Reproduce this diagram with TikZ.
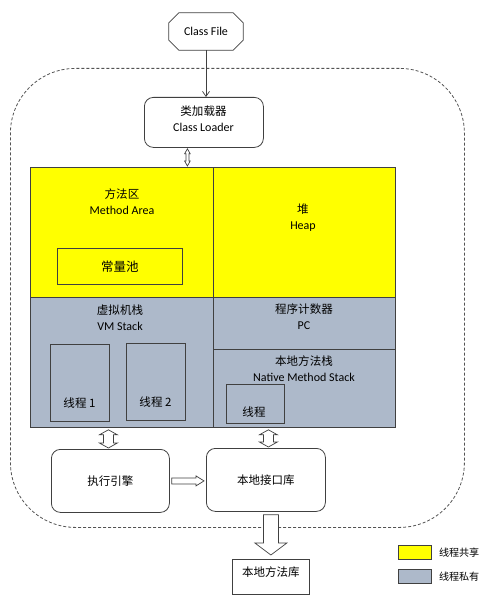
\documentclass[tikz,border=0pt]{standalone}
\usepackage{fontspec}
\setmainfont{Carlito}
\newfontfamily\cjk{Noto Sans CJK SC}[Scale=0.96]
\usetikzlibrary{calc,arrows.meta}
\definecolor{shared}{RGB}{255,255,0}
\definecolor{private}{RGB}{173,185,202}
\definecolor{edge}{RGB}{64,64,64}
\newcommand\vdarr[5]{% from, to, head half, shaft half, head length
  \draw[hollow] let \p1=(#1), \p2=(#2) in
    (\x1,\y1) -- (\x1+#3,\y1-#5) -- (\x1+#4,\y1-#5) -- (\x1+#4,\y2+#5)
    -- (\x1+#3,\y2+#5) -- (\x1,\y2) -- (\x1-#3,\y2+#5) -- (\x1-#4,\y2+#5)
    -- (\x1-#4,\y1-#5) -- (\x1-#3,\y1-#5) -- cycle;}
\begin{document}
\begin{tikzpicture}[x=1pt,y=-1pt,
  box/.style={draw=edge, line width=0.8pt, inner sep=0pt, anchor=north west},
  rbox/.style={box, rounded corners=9pt, fill=white},
  txt/.style={align=center, inner sep=0pt, font=\fontsize{12}{16}\selectfont},
  small/.style={inner sep=0pt, font=\fontsize{10.5}{13}\selectfont},
  hollow/.style={draw=edge, fill=white, line width=0.7pt, line join=miter},
  conn/.style={draw=edge, line width=0.7pt, -{Straight Barb[length=5pt,width=7pt]}}]
\useasboundingbox (0,0) rectangle (500,607);

% JVM boundary
\node[box, dashed, dash pattern=on 3pt off 2pt, draw=edge!90, rounded corners=65pt,
  minimum width=454pt, minimum height=459pt] (jvm) at (10,68) {};

% Class file (octagon)
\node[inner sep=0pt, minimum width=74pt, minimum height=37pt] (cf) at (206,31.5) {};
\draw[draw=edge, line width=0.8pt]
  ($(cf.north west)+(10,0)$) -- ($(cf.north east)+(-10,0)$) -- ($(cf.north east)+(0,10)$)
  -- ($(cf.south east)+(0,-10)$) -- ($(cf.south east)+(-10,0)$) -- ($(cf.south west)+(10,0)$)
  -- ($(cf.south west)+(0,-10)$) -- ($(cf.north west)+(0,10)$) -- cycle;
\node[txt] (cft) at (cf.center) {Class File};

% Class loader
\node[rbox, minimum width=119pt, minimum height=50pt] (cl) at (144,97) {};
\node[txt] (clt) at (203.5,119) {{\cjk 类加载器}\\Class Loader};
\draw[conn] (cf.south) -- (cf.south |- cl.north);

% runtime data areas
\node[box, fill=shared, minimum width=183pt, minimum height=130pt] (ma) at (30,167) {};
\node[box, fill=shared, minimum width=182pt, minimum height=130pt] (heap) at (213,167) {};
\node[box, fill=private, minimum width=183pt, minimum height=130pt] (vms) at (30,297) {};
\node[box, fill=private, minimum width=182pt, minimum height=52pt] (pc) at (213,297) {};
\node[box, fill=private, minimum width=182pt, minimum height=78pt] (nms) at (213,349) {};

\node[txt] (mat) at (122,202) {{\cjk 方法区}\\Method Area};
\node[box, minimum width=125pt, minimum height=36pt] (pool) at (57,248) {};
\node[txt, font=\fontsize{13}{16}\selectfont] (poolt) at (pool.center) {\cjk 常量池};
\node[txt] (heapt) at (303,218) {{\cjk 堆}\\Heap};

\node[txt] (vmst) at (120,317.5) {{\cjk 虚拟机栈}\\VM Stack};
\node[box, minimum width=59pt, minimum height=77pt] (t1) at (50,344) {};
\node[txt] (t1t) at (79.5,403) {\cjk 线程 1};
\node[box, minimum width=59pt, minimum height=77pt] (t2) at (126,343) {};
\node[txt] (t2t) at (155.5,402) {\cjk 线程 2};

\node[txt] (pct) at (304,317) {{\cjk 程序计数器}\\PC};
\node[txt] (nmst) at (304,369) {{\cjk 本地方法栈}\\Native Method Stack};
\node[box, minimum width=58pt, minimum height=39pt] (t3) at (226,384) {};
\node[txt] (t3t) at (254,412) {\cjk 线程};

% execution engine and native interface
\node[rbox, minimum width=118pt, minimum height=63pt] (ee) at (51,449) {};
\node[txt] (eet) at (ee.center) {\cjk 执行引擎};
\node[rbox, minimum width=119pt, minimum height=63pt] (ni) at (206,448) {};
\node[txt] (nit) at (ni.center) {\cjk 本地接口库};
\node[box, minimum width=77pt, minimum height=35pt] (nl) at (232,559) {};
\node[txt] (nlt) at ($(nl.north)+(0,13)$) {\cjk 本地方法库};

% hollow arrows
\vdarr{$(cl.south)+(-16.5,1)$}{$(ma.north)+(0,-1)$}{2.8pt}{1.5pt}{5pt}
\vdarr{$(vms.south -| ee.north)+(-2,2)$}{$(ee.north)+(-2,-1)$}{9pt}{5pt}{5pt}
\vdarr{$(nms.south -| ni.north)+(2.5,2)$}{$(ni.north)+(2.5,-1)$}{9pt}{5pt}{5pt}
\draw[hollow] let \p1=($(ee.east)+(2,0)$), \p2=($(ni.west)+(-2,0)$) in
  (\x1,\y1+3pt) -- (\x2-8pt,\y1+3pt) -- (\x2-8pt,\y1+5pt) -- (\x2,\y1)
  -- (\x2-8pt,\y1-5pt) -- (\x2-8pt,\y1-3pt) -- (\x1,\y1-3pt) -- cycle;
\draw[hollow] let \p1=($(ni.south -| nl.north)+(0,3)$), \p2=($(nl.north)+(0,-4)$) in
  (\x1-7.5pt,\y1) -- (\x1+7.5pt,\y1) -- (\x1+7.5pt,\y2+12pt) -- (\x1+16pt,\y2+12pt)
  -- (\x1,\y2) -- (\x1-16pt,\y2+12pt) -- (\x1-7.5pt,\y2+12pt) -- cycle;

% legend
\node[box, fill=shared, minimum width=33pt, minimum height=14pt] (lgs) at (398,545) {};
\node[small, anchor=west] (lgst) at ($(lgs.east)+(7,0)$) {\cjk 线程共享};
\node[box, fill=private, minimum width=33pt, minimum height=14pt] (lgp) at (398,569) {};
\node[small, anchor=west] (lgpt) at ($(lgp.east)+(7,0)$) {\cjk 线程私有};
\end{tikzpicture}
\end{document}
